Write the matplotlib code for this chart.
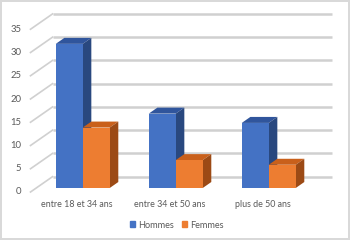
import matplotlib
matplotlib.use('Agg')
import matplotlib.pyplot as plt
from matplotlib.patches import Polygon, Patch

categories = ['entre 18 et 34 ans', 'entre 34 et 50 ans', 'plus de 50 ans']
hommes = [31, 16, 14]
femmes = [13, 6, 5]
yticks = [0, 5, 10, 15, 20, 25, 30, 35]
series = ['Hommes', 'Femmes']

# colours: front, top, side
blue = ('#4472C4', '#30559C', '#29487F')
orange = ('#ED7D31', '#C9601B', '#9C4A15')
grid_col = '#D0D0D0'
text_col = '#595959'

plt.rcParams['font.family'] = ['Lato', 'DejaVu Sans']

# oblique 3d: full depth of the floor in data units
DX = 0.237
DY = 3.3
# bars sit between these depth fractions
D_FRONT = 0.26
D_BACK = 0.65
BW = 0.29

fig = plt.figure(figsize=(3.5, 2.4), dpi=100)
fig.patch.set_facecolor('white')
fig.patch.set_edgecolor('#D9D9D9')
fig.patch.set_linewidth(1.5)
ax = fig.add_axes([0, 0, 1, 1])
ax.set_xlim(-77 / 93, (350 - 77) / 93)
ax.set_ylim(-48 / 4.65, (240 - 48) / 4.65)
ax.axis('off')

# back wall gridlines + left side wall diagonals
x0, x1 = -0.5, len(categories) - 0.5
back = [v + DY for v in yticks]
ax.hlines(back, x0 + DX, x1 + DX, colors=grid_col, linewidths=1.8, zorder=2)
for v in yticks:
    ax.plot([x0, x0 + DX], [v, v + DY], color=grid_col, lw=1.2, zorder=2)
    ax.text(x0 - 0.1, v, str(v), ha='right', va='center', fontsize=6.8,
            color=text_col)


def bar3d(xl, val, cols):
    fx = D_FRONT * DX
    fy = D_FRONT * DY
    bx = (D_BACK - D_FRONT) * DX
    by = (D_BACK - D_FRONT) * DY
    xr = xl + BW
    top = [(xl + fx, val + fy), (xr + fx, val + fy),
           (xr + fx + bx, val + fy + by), (xl + fx + bx, val + fy + by)]
    side = [(xr + fx, fy), (xr + fx + bx, fy + by),
            (xr + fx + bx, val + fy + by), (xr + fx, val + fy)]
    ax.add_patch(Polygon(top, closed=True, fc=cols[1], ec='none', zorder=3))
    ax.add_patch(Polygon(side, closed=True, fc=cols[2], ec='none', zorder=3))
    ax.bar(xl + fx, val, width=BW, bottom=fy, align='edge', color=cols[0],
           edgecolor='none', zorder=3)


for i, cat in enumerate(categories):
    bar3d(i - BW, hommes[i], blue)
    bar3d(i, femmes[i], orange)
    ax.text(i, -2.6, cat, ha='center', va='center', fontsize=6.4,
            color=text_col)

handles = [Patch(color=blue[0], label=series[0]),
           Patch(color=orange[0], label=series[1])]
fig.legend(handles=handles, loc='center', bbox_to_anchor=(177 / 350, 1 - 225 / 240),
           ncol=2, frameon=False, fontsize=6.6, handlelength=0.55,
           handleheight=0.55, handletextpad=0.3, columnspacing=0.9,
           labelcolor=text_col)

fig.savefig('out.png', dpi=100)
